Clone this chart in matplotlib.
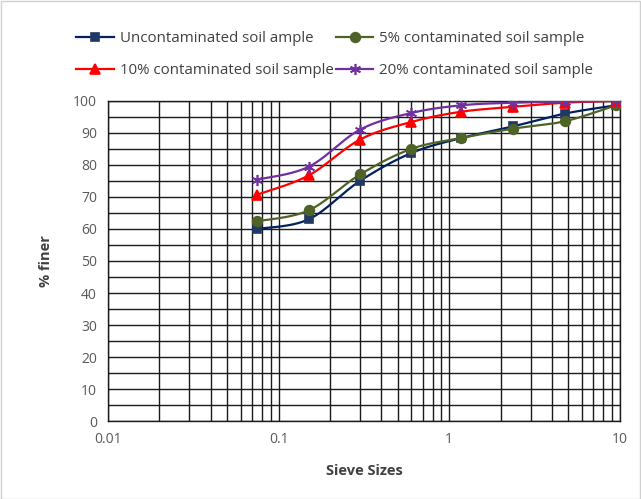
import numpy as np
import matplotlib.pyplot as plt
from matplotlib.patches import Rectangle
from matplotlib.ticker import LogLocator, FixedLocator, NullFormatter, FuncFormatter

plt.rcParams['font.family'] = ['Open Sans', 'DejaVu Sans']

sieve = [0.075, 0.15, 0.3, 0.6, 1.18, 2.36, 4.75, 9.5]
uncontaminated = [60, 63, 75, 83.7, 88.4, 92, 96, 98.6]
contam_5 = [62.4, 65.8, 77, 85, 88.4, 91.3, 93.6, 98.6]
contam_10 = [70.7, 76.7, 87.9, 93.4, 96.6, 98.1, 99.4, 100]
contam_20 = [75.4, 79.4, 91, 96.2, 98.6, 99.4, 99.7, 100]

labels = ['Uncontaminated soil ample', '5% contaminated soil sample',
          '10% contaminated soil sample', '20% contaminated soil sample']


def smooth(x, y, n=30):
    # Excel-style smoothed line: Bezier segments with Catmull-Rom control points
    lx = np.log10(x)
    p = np.column_stack([lx, y])
    p = np.vstack([p[0], p, p[-1]])
    out = []
    t = np.linspace(0, 1, n)[:, None]
    for i in range(1, len(p) - 2):
        p0, p3 = p[i], p[i + 1]
        c1 = p0 + (p[i + 1] - p[i - 1]) / 6
        c2 = p3 - (p[i + 2] - p[i]) / 6
        seg = ((1 - t) ** 3) * p0 + 3 * ((1 - t) ** 2) * t * c1 \
            + 3 * (1 - t) * t ** 2 * c2 + t ** 3 * p3
        out.append(seg)
    out = np.vstack(out)
    return 10 ** out[:, 0], out[:, 1]


fig = plt.figure(figsize=(6.41, 4.99), dpi=100)
ax = fig.add_axes([0.1685, 0.156, 0.7985, 0.642])

series = [
    (uncontaminated, '#002060', '#1F3864', 's', 6),
    (contam_5, '#4F6228', '#4F6228', 'o', 7),
    (contam_10, '#FF0000', '#FF0000', '^', 7),
    (contam_20, '#7030A0', '#7030A0', (6, 2, 0), 8),
]

handles = []
for (vals, col, mcol, mk, ms), lab in zip(series, labels):
    sx, sy = smooth(sieve, vals)
    ax.plot(sx, sy, color=col, lw=1.6, zorder=3)
    ax.plot(sieve, vals, ls='none', marker=mk, ms=ms, color=mcol,
            mec=mcol, mew=1.2, zorder=4)
    h, = ax.plot([], [], color=col, lw=1.6, marker=mk, ms=ms, mec=mcol,
                 mfc=mcol, mew=1.2)
    handles.append(h)

ax.set_xscale('log')
ax.set_xlim(0.01, 10)
ax.set_ylim(0, 100)
ax.set_yticks(range(0, 101, 10))
ax.yaxis.set_minor_locator(FixedLocator(range(5, 100, 10)))
ax.xaxis.set_major_locator(FixedLocator([0.01, 0.1, 1, 10]))
ax.xaxis.set_major_formatter(FuncFormatter(lambda v, p: f'{v:g}'))
ax.xaxis.set_minor_locator(LogLocator(base=10, subs=np.arange(2, 10)))
ax.xaxis.set_minor_formatter(NullFormatter())

ax.grid(True, which='both', color='#1a1a1a', lw=1.0)
ax.set_axisbelow(True)
for s in ax.spines.values():
    s.set_color('#1a1a1a')
    s.set_linewidth(1.0)
ax.tick_params(which='both', length=0, colors='#595959', labelsize=10, pad=8)

ax.set_xlabel('Sieve Sizes', fontsize=10.5, fontweight='bold', color='#404040', labelpad=12)
ax.set_ylabel('% finer', fontsize=10.5, fontweight='bold', color='#404040', labelpad=14)

# legend: two rows, two columns, no frame (column-wise fill, so reorder)
order = [handles[0], handles[2], handles[1], handles[3]]
order_labels = [labels[0], labels[2], labels[1], labels[3]]
fig.legend(order, order_labels, ncol=2, loc='upper left', bbox_to_anchor=(0.098, 0.965),
           frameon=False, fontsize=10.8, handlelength=2.5, columnspacing=0.15,
           handletextpad=0.4, labelspacing=1.15, labelcolor='#404040')

fig.patches.append(Rectangle((0.001, 0.001), 0.997, 0.997, transform=fig.transFigure,
                             fill=False, edgecolor='#d0d0d0', lw=1))

fig.savefig('out.png', dpi=100)
